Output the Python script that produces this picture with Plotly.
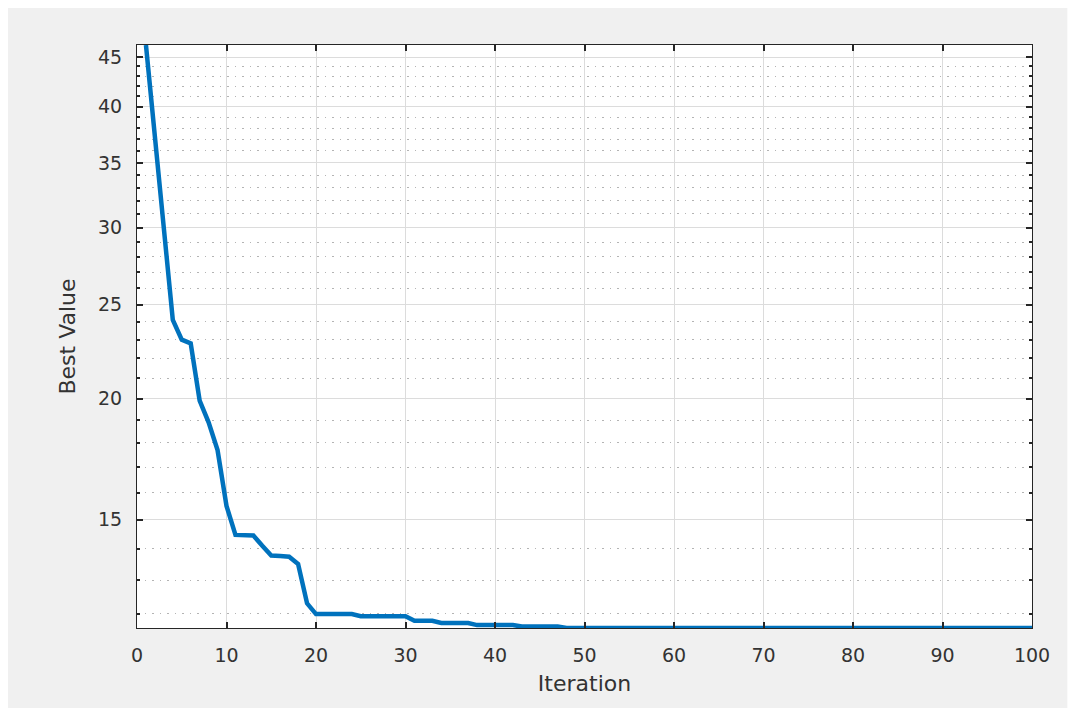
import plotly.graph_objects as go
import math

# ---- data ----
iterations = list(range(1, 101))
best_value = [
    46.3, 37.3, 29.8, 24.1, 23.0, 22.8, 19.9, 18.9, 17.7, 15.5,
    14.47, 14.47, 14.45, 14.1, 13.78, 13.76, 13.74, 13.5, 12.3, 11.99,
    11.99, 11.99, 11.99, 11.99, 11.93, 11.93, 11.93, 11.93, 11.93, 11.93,
    11.80, 11.80, 11.80, 11.74, 11.74, 11.74, 11.74, 11.68, 11.68, 11.68,
    11.68, 11.68, 11.64, 11.64, 11.64, 11.64, 11.64, 11.60, 11.60, 11.60,
    11.60, 11.60, 11.60, 11.60, 11.60, 11.60, 11.60, 11.60, 11.60, 11.60,
    11.60, 11.60, 11.60, 11.60, 11.60, 11.60, 11.60, 11.60, 11.60, 11.60,
    11.60, 11.60, 11.60, 11.60, 11.60, 11.60, 11.60, 11.60, 11.60, 11.60,
    11.60, 11.60, 11.60, 11.60, 11.60, 11.60, 11.60, 11.60, 11.60, 11.60,
    11.60, 11.60, 11.60, 11.60, 11.60, 11.60, 11.60, 11.60, 11.60, 11.60,
]
x_ticks = [0, 10, 20, 30, 40, 50, 60, 70, 80, 90, 100]
y_ticks = [15, 20, 25, 30, 35, 40, 45]
y_minor = [12, 13, 14, 16, 17, 18, 19, 21, 22, 23, 24, 26, 27, 28, 29,
           31, 32, 33, 34, 36, 37, 38, 39, 41, 42, 43, 44]

AX = "#262626"
TXT = "#333333"
FONT = "DejaVu Sans"

fig = go.Figure()
fig.add_trace(go.Scatter(
    x=iterations, y=best_value, mode="lines",
    line=dict(color="#0072BD", width=4.5),
    showlegend=False,
))

# the page body adds an 8px white margin; size the figure to fit the window
fig.update_layout(
    width=1068, height=700,
    margin=dict(l=129, r=44, t=37, b=80),
    paper_bgcolor="#F0F0F0",
    plot_bgcolor="#FFFFFF",
    font=dict(family=FONT, color=TXT, size=19),
    showlegend=False,
)

fig.update_xaxes(
    range=[0, 100],
    tickmode="array", tickvals=x_ticks,
    showline=True, linecolor=AX, linewidth=1, mirror="allticks",
    ticks="inside", ticklen=6, tickcolor=AX, tickwidth=1.5,
    showgrid=True, gridcolor="#DCDCDC", gridwidth=1,
    zeroline=False,
    tickfont=dict(family=FONT, size=19, color=TXT),
    ticklabelstandoff=10,
    title=dict(text="Iteration", font=dict(family=FONT, size=22, color=TXT), standoff=10),
)

fig.update_yaxes(
    type="log",
    range=[math.log10(min(best_value)), math.log10(max(best_value))],
    tickmode="array", tickvals=y_ticks, ticktext=[str(v) for v in y_ticks],
    showline=True, linecolor=AX, linewidth=1, mirror="allticks",
    ticks="inside", ticklen=6, tickcolor=AX, tickwidth=1.5,
    showgrid=True, gridcolor="#DCDCDC", gridwidth=1,
    zeroline=False,
    minor=dict(tickmode="array", tickvals=y_minor, ticks="inside", ticklen=3,
               tickcolor=AX, showgrid=True, gridcolor="#B4B4B4",
               griddash="1.5px,6px", gridwidth=1),
    tickfont=dict(family=FONT, size=19, color=TXT),
    ticklabelstandoff=10,
    title=dict(text="Best Value", font=dict(family=FONT, size=22, color=TXT), standoff=16),
)

# light window border strip at the right edge of the grey figure area
fig.add_shape(type="rect", xref="paper", yref="paper", x0=1.0391, x1=1.06, y0=-0.2, y1=1.2,
              line=dict(width=0), fillcolor="#FAFAFA", layer="above")

fig.write_html("out.html")
